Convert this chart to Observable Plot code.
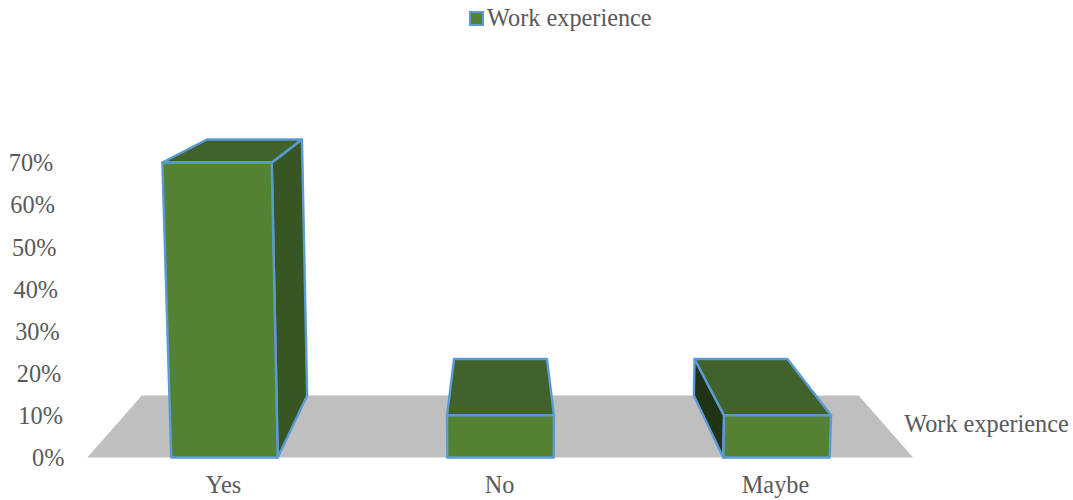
<!DOCTYPE html>
<html>
<head>
<meta charset="utf-8">
<script src="https://cdn.jsdelivr.net/npm/d3@7"></script>
<script src="https://cdn.jsdelivr.net/npm/@observablehq/plot@0.6"></script>
<style>
  html, body { margin: 0; background: #fff; }
  #legend { height: 36px; display: flex; align-items: center; padding-left: 469px;
            font: 24.3px "Liberation Serif", serif; color: #595959; box-sizing: border-box; }
  #legend i { width: 11px; height: 11px; background: #548235; border: 2px solid #5B9BD5; margin-right: 3px; }
  svg { display: block; }
</style>
</head>
<body>
<div id="legend"><i></i><span>Work experience</span></div>
<div id="chart"></div>
<script>
// Survey shares, one bar per answer
const categories = ["Yes", "No", "Maybe"];
const values = [70, 10, 10];
const valueTicks = [0, 10, 20, 30, 40, 50, 60, 70];
const seriesName = "Work experience";

// Camera used for the pseudo-3D view
const halfBar = 0.193;      // half a bar's width, in category units
const centre = 1;           // horizontal vanishing position, in category units
const vanish = 111.3;       // vertical vanishing position, in value units
const shrink = 0.132;       // foreshortening of the rear plane
const lean = 0.027 / 70;    // widening of the front plane per value unit

const project = (c, v, d) => ({
  x: centre + (c - centre) * (1 + lean * v) * (1 - shrink * d),
  y: v + (vanish - v) * shrink * d
});

const face = (id, fill, corners) =>
  corners.map(([c, v, d]) => ({id, fill, ...project(c, v, d)}));

// Sides only show when the bar stands clear of the vanishing position
const bars = categories.flatMap((name, i) => {
  const a = i - halfBar, b = i + halfBar, h = values[i];
  const faces = [];
  if (b < centre) faces.push(face(name + " right", "#375623", [[b, 0, 0], [b, 0, 1], [b, h, 1], [b, h, 0]]));
  if (a > centre) faces.push(face(name + " left", "#203314", [[a, 0, 0], [a, 0, 1], [a, h, 1], [a, h, 0]]));
  faces.push(face(name + " top", "#41632B", [[a, h, 0], [a, h, 1], [b, h, 1], [b, h, 0]]));
  faces.push(face(name + " front", "#548235", [[a, 0, 0], [a, h, 0], [b, h, 0], [b, 0, 0]]));
  return faces.flat();
});

const floor = face("floor", "#BFBFBF", [[-0.497, 0, 0], [-0.497, 0, 1], [2.495, 0, 1], [2.495, 0, 0]]);

const font = '"Liberation Serif", serif';
const ink = "#595959";
const textSize = 24.3;

const chart = Plot.plot({
  width: 1073,
  height: 464,
  marginLeft: 86,
  marginRight: 159,
  marginTop: 126,
  marginBottom: 43,
  style: {fontFamily: font, background: "#fff"},
  x: {domain: [-0.5, 2.5], axis: null},
  y: {domain: [0, 70], axis: null},
  color: {type: "identity"},
  marks: [
    Plot.line(floor, {x: "x", y: "y", fill: "fill", stroke: "none", curve: "linear-closed"}),
    Plot.line(bars, {x: "x", y: "y", z: "id", fill: "fill", stroke: "#5B9BD5", strokeWidth: 2.4,
                     strokeLinejoin: "round", curve: "linear-closed"}),
    Plot.text(valueTicks, {
      x: v => project(-0.5, v, 0).x, y: v => v, text: v => v + "%",
      textAnchor: "end", dx: -22, dy: 1, fontSize: textSize, fill: ink
    }),
    Plot.text(categories, {
      x: (_, i) => i, y: () => 0, text: d => d,
      dx: -1, dy: 28, fontSize: textSize, fill: ink
    }),
    Plot.text([seriesName], {
      x: () => project(2.5, 0, 0.5).x, y: () => project(2.5, 0, 0.5).y, text: d => d,
      textAnchor: "start", dx: 17, dy: -2, fontSize: textSize, fill: ink
    })
  ]
});
document.getElementById("chart").append(chart);
</script>
</body>
</html>
